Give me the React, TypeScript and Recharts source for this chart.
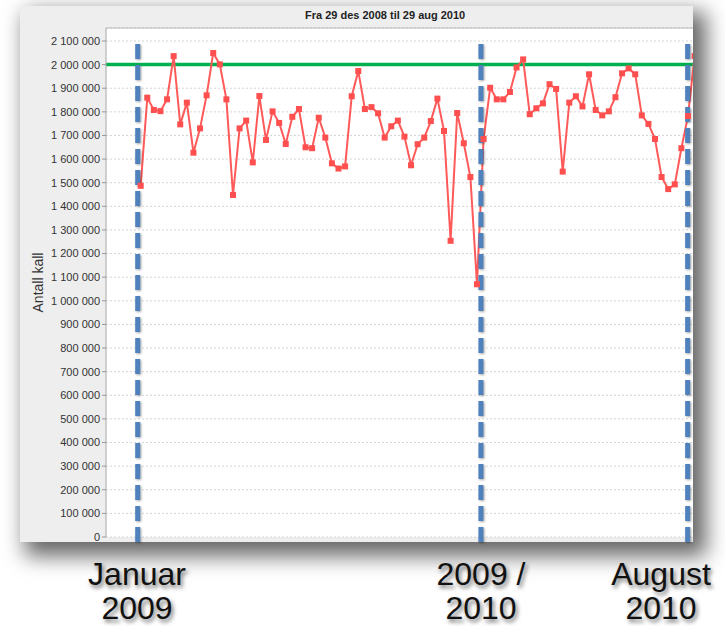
import React from "react";
import {
  LineChart,
  Line,
  XAxis,
  YAxis,
  CartesianGrid,
  ReferenceLine,
} from "recharts";

// weekly number of calls, from week starting 29 des 2008
const calls = [
  1487000, 1860000, 1808000, 1803000, 1853000, 2036000, 1747000, 1839000, 1627000, 1730000,
  1870000, 2049000, 2001000, 1853000, 1448000, 1730000, 1763000, 1586000, 1867000, 1681000,
  1802000, 1753000, 1664000, 1779000, 1812000, 1650000, 1646000, 1775000, 1691000, 1582000,
  1560000, 1569000, 1866000, 1973000, 1812000, 1820000, 1794000, 1691000, 1739000, 1763000,
  1695000, 1574000, 1663000, 1691000, 1761000, 1856000, 1719000, 1254000, 1795000, 1667000,
  1524000, 1070000, 1685000, 1902000, 1853000, 1853000, 1884000, 1988000, 2022000, 1790000,
  1815000, 1836000, 1917000, 1897000, 1547000, 1839000, 1866000, 1823000, 1959000, 1808000,
  1785000, 1802000, 1862000, 1963000, 1984000, 1959000, 1785000, 1749000, 1685000, 1524000,
  1473000, 1493000, 1646000, 1782000, 2036000,
];

const yTicks = [
  0, 100000, 200000, 300000, 400000, 500000, 600000, 700000, 800000, 900000, 1000000,
  1100000, 1200000, 1300000, 1400000, 1500000, 1600000, 1700000, 1800000, 1900000,
  2000000, 2100000,
];

// period markers (in week index units) and their captions
const markerWeeks = [-0.45, 51.6, 82.95];
const markerLabels = [
  ["Januar", "2009"],
  ["2009 /", "2010"],
  ["August", "2010"],
];
const markerLabelX = [137, 481, 661];

const target = 2000000;
const yMax = 2155000;

const data = calls.map((v, i) => ({ week: i, calls: v }));

const FONT = "'Liberation Sans', Arial, sans-serif";

const fmt = (v: number) => String(v).replace(/\B(?=(\d{3})+(?!\d))/g, " ");

const SquareDot = (props: any) => {
  const { cx, cy } = props;
  if (cx == null || cy == null) return null;
  return <rect x={cx - 3} y={cy - 3} width={6} height={6} fill="#ff4f4f" />;
};

const AxisLabel = ({ viewBox }: any) => {
  const x = viewBox.x + 23;
  const y = viewBox.y + viewBox.height / 2;
  return (
    <text
      x={x}
      y={y}
      transform={`rotate(-90 ${x} ${y})`}
      textAnchor="middle"
      fontSize={14}
      fill="#333"
      fontFamily={FONT}
    >
      Antall kall
    </text>
  );
};

export default function App() {
  return (
    <div
      style={{
        position: "absolute",
        left: 0,
        top: 0,
        width: 725,
        height: 626,
        background: "#fff",
        overflow: "hidden",
        fontFamily: FONT,
      }}
    >
      {/* chart panel */}
      <div
        style={{
          position: "absolute",
          left: 20,
          top: 6,
          width: 673,
          height: 536,
          background: "#eeeeee",
          boxShadow: "9px 10px 20px 4px rgba(0,0,0,0.6)",
        }}
      />
      <div
        style={{
          position: "absolute",
          left: 305,
          top: 9,
          width: 160,
          textAlign: "center",
          fontSize: 11,
          fontWeight: "bold",
          color: "#222",
          whiteSpace: "nowrap",
        }}
      >
        Fra 29 des 2008 til 29 aug 2010
      </div>

      <div style={{ position: "absolute", left: 0, top: 0 }}>
        <LineChart
          width={725}
          height={626}
          data={data}
          margin={{ top: 28, right: 32, bottom: 89, left: 20 }}
        >
          <CartesianGrid
            fill="#ffffff"
            vertical={false}
            stroke="#d4d4d4"
            strokeDasharray="2 2"
          />
          <XAxis
            dataKey="week"
            type="number"
            domain={[-5.26, 83.76]}
            allowDataOverflow
            height={0}
            tick={false}
            tickLine={false}
            axisLine={{ stroke: "#a8a8a8", strokeWidth: 2 }}
          />
          <YAxis
            type="number"
            domain={[0, yMax]}
            ticks={yTicks}
            interval={0}
            width={86}
            tickSize={4}
            tickFormatter={fmt}
            tick={{ fontSize: 11, fill: "#333", fontFamily: FONT }}
            tickLine={{ stroke: "#999" }}
            axisLine={{ stroke: "#a8a8a8" }}
            label={<AxisLabel />}
          />
          <ReferenceLine y={yMax} stroke="#b8b8b8" />
          <ReferenceLine y={target} stroke="#00b050" strokeWidth={3.5} />
          <Line
            dataKey="calls"
            stroke="#ff5a5a"
            strokeWidth={2}
            dot={<SquareDot />}
            activeDot={false}
            isAnimationActive={false}
          />
          {markerWeeks.map((w) => (
            <ReferenceLine
              key={w}
              segment={[
                { x: w, y: -21000 },
                { x: w, y: 2091000 },
              ]}
              ifOverflow="visible"
              stroke="#4f81bd"
              strokeWidth={5}
              strokeDasharray="15 6"
              style={{ filter: "drop-shadow(1px 1px 1px rgba(0,0,0,0.35))" }}
            />
          ))}
        </LineChart>
      </div>

      {markerLabels.map((lines, i) => (
        <div
          key={i}
          style={{
            position: "absolute",
            left: markerLabelX[i] - 80,
            top: 557,
            width: 160,
            textAlign: "center",
            fontSize: 32,
            lineHeight: "34px",
            color: "#111",
            textShadow: "2px 3px 4px rgba(0,0,0,0.55)",
          }}
        >
          {lines[0]}
          <br />
          {lines[1]}
        </div>
      ))}
    </div>
  );
}
